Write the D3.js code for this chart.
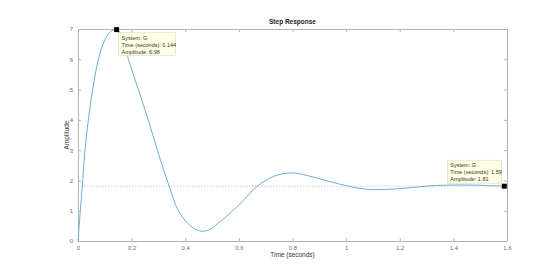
<!DOCTYPE html>
<html>
<head>
<meta charset="utf-8">
<script src="https://cdn.jsdelivr.net/npm/d3@7"></script>
<style>
  body { margin: 0; background: #fff; }
  svg { display: block; font-family: "Liberation Sans", Arial, sans-serif; }
</style>
</head>
<body>
<div id="chart"></div>
<script>
// step response samples (time in s, amplitude)
const times = [0, 0.0087, 0.016, 0.026, 0.0386, 0.0547, 0.076, 0.098, 0.12, 0.144,
    0.165, 0.188, 0.225, 0.262, 0.296, 0.34, 0.374, 0.415, 0.44, 0.465, 0.495, 0.53,
    0.592, 0.669, 0.729, 0.797, 0.878, 0.94, 1.009, 1.065, 1.127, 1.164,
    1.24, 1.313, 1.413, 1.5, 1.59];
const amps = [0, 1.0, 1.81, 3.0, 4.0, 5.0, 6.0, 6.6, 6.9, 6.98,
    6.75, 6.0, 5.0, 4.0, 3.0, 1.81, 1.0, 0.53, 0.38, 0.32, 0.40, 0.64,
    1.12, 1.81, 2.13, 2.25, 2.11, 1.96, 1.81, 1.72, 1.70, 1.71,
    1.76, 1.82, 1.85, 1.84, 1.81];
const steadyState = 1.81;
const xTicks = [0, 0.2, 0.4, 0.6, 0.8, 1, 1.2, 1.4, 1.6];
const yTicks = [0, 1, 2, 3, 4, 5, 6, 7];
// data tips
const tips = [
    { t: 0.144, a: 6.98, label: ["System: G", "Time (seconds): 0.144", "Amplitude: 6.98"], side: "right" },
    { t: 1.59, a: 1.81, label: ["System: G", "Time (seconds): 1.59", "Amplitude: 1.81"], side: "left" }
];

const W = 560, H = 271;
const margin = { top: 29, right: 53, bottom: 30, left: 78 };
const width = W - margin.left - margin.right,
    height = H - margin.top - margin.bottom;

const svg = d3.select("#chart").append("svg")
    .attr("width", W).attr("height", H);
const g = svg.append("g").attr("transform", `translate(${margin.left},${margin.top})`);

const x = d3.scaleLinear().domain([0, 1.6]).range([0, width]);
const y = d3.scaleLinear().domain([0, 7]).range([height, 0]);

const axisColor = "#b3b3b3", labelColor = "#6b6b6b";

// axes (box style, ticks inside)
function styleAxis(sel) {
    sel.select(".domain").attr("stroke", axisColor);
    sel.selectAll(".tick line").attr("stroke", axisColor);
    sel.selectAll(".tick text").attr("fill", labelColor).style("font-size", "6px");
}
g.append("g").attr("transform", `translate(0,${height})`)
    .call(d3.axisBottom(x).tickValues(xTicks).tickFormat(d3.format("")).tickSizeInner(-3).tickSizeOuter(0).tickPadding(5))
    .call(styleAxis);
g.append("g")
    .call(d3.axisLeft(y).tickValues(yTicks).tickFormat(d3.format("")).tickSizeInner(-3).tickSizeOuter(0).tickPadding(5))
    .call(styleAxis);
g.append("g")
    .call(d3.axisTop(x).tickValues(xTicks).tickFormat("").tickSizeInner(-3).tickSizeOuter(0))
    .call(styleAxis);
g.append("g").attr("transform", `translate(${width},0)`)
    .call(d3.axisRight(y).tickValues(yTicks).tickFormat("").tickSizeInner(-3).tickSizeOuter(0))
    .call(styleAxis);

// steady state line
g.append("line")
    .attr("x1", 0).attr("x2", width)
    .attr("y1", y(steadyState)).attr("y2", y(steadyState))
    .attr("stroke", "#bdbdbd").attr("stroke-width", 0.8)
    .attr("stroke-dasharray", "1.5,1.5");

// response line
const data = times.map((t, i) => ({ t: t, a: amps[i] }));
g.append("path")
    .datum(data)
    .attr("fill", "none")
    .attr("stroke", "#5aa6d0")
    .attr("stroke-width", 0.9)
    .attr("d", d3.line()
        .x(d => x(d.t))
        .y(d => y(d.a))
        .curve(d3.curveCatmullRom.alpha(0.5)));

// data tips
tips.forEach(function (tip) {
    const px = x(tip.t), py = y(tip.a);
    const boxW = tip.side == "right" ? 57 : 54, boxH = 23;
    const bx = tip.side == "right" ? px + 2 : px - boxW - 3;
    const by = tip.side == "right" ? py + 3 : py - boxH - 3;
    g.append("rect")
        .attr("x", bx).attr("y", by)
        .attr("width", boxW).attr("height", boxH)
        .attr("fill", "#ffffe6").attr("stroke", "#d9d9c0").attr("stroke-width", 0.6);
    tip.label.forEach(function (s, i) {
        g.append("text")
            .attr("x", bx + 3).attr("y", by + 7 + i * 7)
            .attr("fill", "#333").style("font-size", "5.5px")
            .text(s);
    });
    g.append("rect")
        .attr("x", px - 2.5).attr("y", py - 2.5)
        .attr("width", 5).attr("height", 5)
        .attr("fill", "#000");
});

// title and axis labels
svg.append("text")
    .attr("x", margin.left + width / 2).attr("y", 24)
    .attr("text-anchor", "middle")
    .style("font-size", "6.5px").style("font-weight", "bold")
    .attr("fill", "#222")
    .text("Step Response");
svg.append("text")
    .attr("x", margin.left + width / 2).attr("y", margin.top + height + 16)
    .attr("text-anchor", "middle")
    .style("font-size", "6.5px")
    .attr("fill", "#333")
    .text("Time (seconds)");
svg.append("text")
    .attr("transform", `translate(${margin.left - 9},${margin.top + height / 2}) rotate(-90)`)
    .attr("text-anchor", "middle")
    .style("font-size", "6.5px")
    .attr("fill", "#333")
    .text("Amplitude");
</script>
</body>
</html>
